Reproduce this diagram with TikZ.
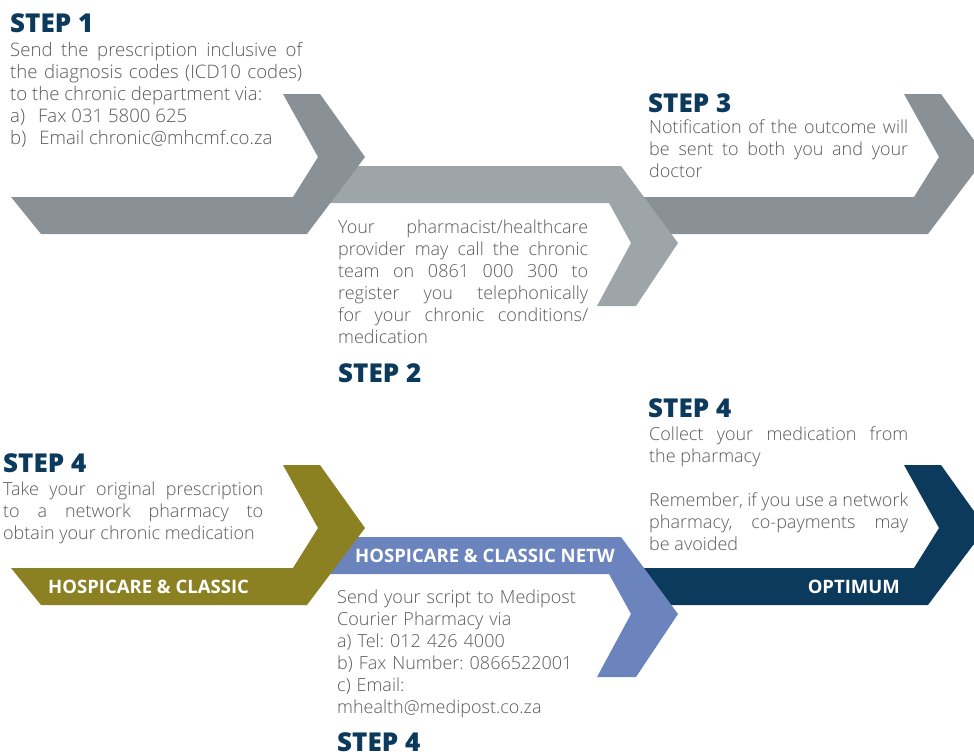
\documentclass[tikz,border=0pt]{standalone}
\usepackage{fontspec}
\usepackage{tikz}
\usetikzlibrary{positioning}
\setmainfont{Open Sans}
\IfFontExistsTF{Open Sans Light}{\newfontfamily\lightfont{Open Sans Light}}{\newfontfamily\lightfont{Open Sans}}
\IfFontExistsTF{Open Sans ExtraBold}{\newfontfamily\heavyfont{Open Sans ExtraBold}}{%
  \IfFontExistsTF{Open Sans Extrabold}{\newfontfamily\heavyfont{Open Sans Extrabold}}{%
    \IfFontExistsTF{OpenSans-ExtraBold.ttf}{\newfontfamily\heavyfont{OpenSans-ExtraBold.ttf}}{%
      \IfFontExistsTF{OpenSans-ExtraBold.otf}{\newfontfamily\heavyfont{OpenSans-ExtraBold.otf}}{\def\heavyfont{\bfseries}}}}}
\definecolor{greydark}{HTML}{8A9196}
\definecolor{greylight}{HTML}{9EA5A8}
\definecolor{olive}{HTML}{8B8022}
\definecolor{network}{HTML}{6C84BE}
\definecolor{optimum}{HTML}{0C3A5D}
\definecolor{headblue}{HTML}{0C3A5D}
\definecolor{bodygrey}{HTML}{5A5A5A}

\begin{document}
\frenchspacing
\begin{tikzpicture}[x=1pt,y=-1pt,
    stephead/.style={anchor=base west,inner sep=0pt,text=headblue,font=\heavyfont\fontsize{26}{30}\selectfont},
    stepbody/.style={anchor=base west,inner sep=0pt,text=bodygrey,align=justify,font=\lightfont\fontsize{18}{22}\selectfont},
    barlabel/.style={inner sep=0pt,text=white,font=\bfseries\fontsize{18.5}{22}\selectfont}]
  \useasboundingbox (0,0) rectangle (974,753);
  % top row, back to front
  \fill[greydark] (904,94) -- (941,94) -- (986,157) -- (928,234) -- (650,234) -- (630,197) -- (914,197) -- (939,157) -- cycle;
  \fill[greylight] (597,306) -- (636,306) -- (678,243) -- (621,166) -- (335,166) -- (310,203) -- (609,203) -- (631,243) -- cycle;
  \fill[greydark] (283,94) -- (320,94) -- (365,157) -- (307,234) -- (41,234) -- (11,197) -- (293,197) -- (318,157) -- cycle;
  % bottom row
  \fill[optimum] (904,465) -- (941,465) -- (986,528) -- (928,605) -- (650,605) -- (630,568) -- (914,568) -- (939,528) -- cycle;
  \fill[network] (597,677) -- (636,677) -- (678,614) -- (621,537) -- (335,537) -- (310,574) -- (609,574) -- (631,614) -- cycle;
  \fill[olive] (283,465) -- (320,465) -- (365,528) -- (307,605) -- (41,605) -- (11,568) -- (293,568) -- (318,528) -- cycle;

  \node[stephead] (S1) at (10,32) {STEP 1};
  \node[stepbody,text width=292pt,font=\lightfont\fontsize{18.6}{22}\selectfont] (T1) at (10,56) {Send the prescription inclusive of\linebreak the diagnosis codes (ICD10 codes)\linebreak to the chronic department via:\\ a)\hspace{13pt}Fax 031 5800 625\\ b)\hspace{13pt}Email chronic@mhcmf.co.za};

  \node[stepbody,text width=250pt] (T2) at (338,233) {Your pharmacist/healthcare\linebreak provider may call the chronic\linebreak team on 0861 000 300 to\linebreak register you telephonically\linebreak for your chronic conditions/\linebreak medication};
  \node[stephead] (S2) at (338,382) {STEP 2};

  \node[stephead] (S3) at (648,112) {STEP 3};
  \node[stepbody,text width=259pt] (T3) at (649,133) {Notification of the outcome will\linebreak be sent to both you and your\linebreak doctor};

  \node[stephead] (S4a) at (3,472) {STEP 4};
  \node[stepbody,text width=260pt] (T4a) at (3,495) {Take your original prescription\linebreak to a network pharmacy to\linebreak obtain your chronic medication};
  \node[barlabel,anchor=base west] (B4a) at (48,593) {HOSPICARE \& CLASSIC};

  \node[barlabel,anchor=base west] (B4b) at (355,562) {HOSPICARE \& CLASSIC NETW};
  \node[stepbody,text width=260pt,align=left] (T4b) at (337,603) {Send your script to Medipost\\ Courier Pharmacy via\\ a) Tel: 012 426 4000\\ b) Fax Number: 0866522001\\ c) Email:\\ mhealth@medipost.co.za};
  \node[stephead] (S4b) at (337,751) {STEP 4};

  \node[stephead] (S4c) at (648,417) {STEP 4};
  \node[stepbody,text width=259pt] (T4c) at (649,440) {Collect your medication from\linebreak the pharmacy\\[22pt] Remember, if you use a network\linebreak pharmacy, co-payments may\linebreak be avoided};
  \node[barlabel,anchor=base east] (B4c) at (900,593) {OPTIMUM};
\end{tikzpicture}
\end{document}
